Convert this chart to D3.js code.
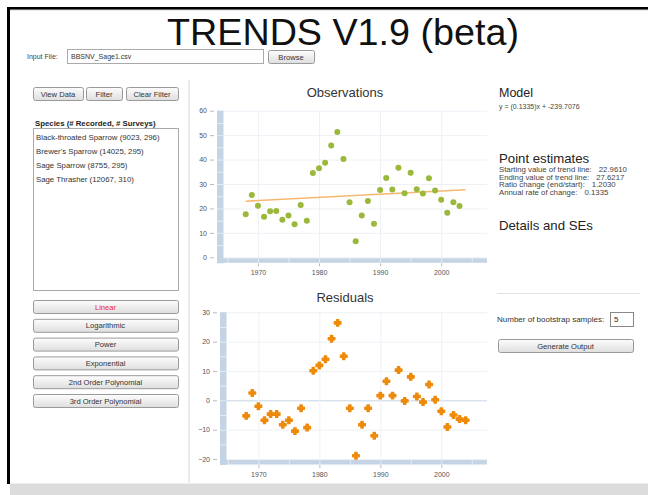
<!DOCTYPE html>
<html>
<head>
<meta charset="utf-8">
<script src="https://cdn.jsdelivr.net/npm/d3@7"></script>
<style>
  body { margin: 0; background: #fff; }
  svg { display: block; font-family: "Liberation Sans", Arial, sans-serif; }
</style>
</head>
<body>
<svg id="chart" width="648" height="495"></svg>
<script>
// Data
const obsYears = [1968, 1969, 1970, 1971, 1972, 1973, 1974, 1975, 1976, 1977, 1978, 1979,
    1980, 1981, 1982, 1983, 1984, 1985, 1986, 1987, 1988, 1989, 1990, 1991,
    1992, 1993, 1994, 1995, 1996, 1997, 1998, 1999, 2000, 2001, 2002, 2003]
const observations = [17.6, 25.5, 21.1, 16.6, 18.8, 18.9, 15.4, 17.1, 13.5, 21.4, 15.0, 34.5,
    36.4, 38.7, 45.8, 51.3, 40.2, 22.5, 6.6, 17.1, 23.0, 13.7, 27.5, 32.5,
    27.8, 36.6, 26.2, 34.6, 27.9, 26.1, 32.4, 27.3, 23.6, 18.2, 22.5, 21.0]
const resYears = [1968, 1969, 1970, 1971, 1972, 1973, 1974, 1975, 1976, 1977, 1978, 1979,
    1980, 1981, 1982, 1983, 1984, 1985, 1986, 1987, 1988, 1989, 1990, 1991,
    1992, 1993, 1994, 1995, 1996, 1997, 1998, 1999, 2000, 2001, 2002, 2003, 2004]
const residuals = [-5.3, 2.5, -2.0, -6.8, -4.7, -4.7, -8.3, -6.8, -10.5, -2.7, -9.3, 10.1,
    11.9, 14.0, 21.0, 26.4, 15.0, -2.7, -18.9, -8.3, -2.7, -12.1, 1.6, 6.5,
    1.6, 10.3, -0.2, 8.0, 1.3, -0.6, 5.4, 0.2, -3.7, -9.1, -5.0, -6.4, -6.8]
const trendYears = [1968, 2004]
const trendValues = [22.961, 27.6217]
const xTicks = [1970, 1980, 1990, 2000]
const obsTicks = [0, 10, 20, 30, 40, 50, 60]
const resTicks = [-20, -10, 0, 10, 20, 30]
const species = ['Black-throated Sparrow (9023, 296)', "Brewer's Sparrow (14025, 295)",
    'Sage Sparrow (8755, 295)', 'Sage Thrasher (12067, 310)']
const fitButtons = ['Linear', 'Logarithmic', 'Power', 'Exponential', '2nd Order Polynomial', '3rd Order Polynomial']
const estimates = [
    ['Starting value of trend line:', '22.9610'],
    ['Ending value of trend line:', '27.6217'],
    ['Ratio change (end/start):', '1.2030'],
    ['Annual rate of change:', '0.1335']
]

const svg = d3.select('#chart')

// Gradient for buttons
const defs = svg.append('defs')
const grad = defs.append('linearGradient').attr('id', 'btn').attr('x1', 0).attr('y1', 0).attr('x2', 0).attr('y2', 1)
grad.append('stop').attr('offset', '0%').attr('stop-color', '#fdfdfd')
grad.append('stop').attr('offset', '100%').attr('stop-color', '#dedede')

// Page frame
svg.append('rect').attr('x', 10).attr('y', 483).attr('width', 638).attr('height', 12).attr('fill', '#dcdcdc')
svg.append('line').attr('x1', 10).attr('x2', 648).attr('y1', 483.5).attr('y2', 483.5).attr('stroke', '#eeeeee')
svg.append('line').attr('x1', 189).attr('x2', 189).attr('y1', 80).attr('y2', 483).attr('stroke', '#ebebeb').attr('stroke-width', 2)
svg.append('line').attr('x1', 7).attr('x2', 648).attr('y1', 9.8).attr('y2', 9.8).attr('stroke', '#bbb')
svg.append('rect').attr('x', 7).attr('y', 7).attr('width', 641).attr('height', 2.5).attr('fill', '#000')
svg.append('rect').attr('x', 7).attr('y', 7).attr('width', 3).attr('height', 477).attr('fill', '#000')

// Title
svg.append('text')
    .attr('x', 343).attr('y', 45)
    .attr('text-anchor', 'middle')
    .attr('font-size', 36)
    .attr('fill', '#111')
    .attr('textLength', 352)
    .attr('lengthAdjust', 'spacingAndGlyphs')
    .text('TRENDS V1.9 (beta)')

// Buttons helper
const button = (x, y, w, h, label, color) => {
    const g = svg.append('g')
    g.append('rect').attr('x', x + 0.5).attr('y', y + 0.5).attr('width', w).attr('height', h)
        .attr('rx', 2).attr('fill', 'url(#btn)').attr('stroke', '#9a9a9a')
    g.append('text').attr('x', x + w / 2).attr('y', y + h / 2 + 3)
        .attr('text-anchor', 'middle').attr('font-size', 7.6).attr('fill', color || '#333')
        .text(label)
}

// Input file row
svg.append('text').attr('x', 27).attr('y', 59).attr('font-size', 7).attr('fill', '#444').text('Input File:')
svg.append('rect').attr('x', 67.5).attr('y', 49.5).attr('width', 196).attr('height', 14)
    .attr('fill', '#fff').attr('stroke', '#aaa')
svg.append('text').attr('x', 71).attr('y', 59).attr('font-size', 7).attr('fill', '#333').text('BBSNV_Sage1.csv')
button(268, 50, 46, 13, 'Browse')

// Left panel
button(33, 87, 50, 13, 'View Data')
button(86, 87, 36, 13, 'Filter')
button(126, 87, 52, 13, 'Clear Filter')
svg.append('text').attr('x', 35).attr('y', 126).attr('font-size', 7.8).attr('font-weight', 'bold')
    .attr('fill', '#222').text('Species (# Recorded, # Surveys)')
svg.append('rect').attr('x', 33.5).attr('y', 128.5).attr('width', 145).attr('height', 162)
    .attr('fill', '#fff').attr('stroke', '#aaa')
svg.append('g').selectAll('text')
    .data(species)
    .enter()
    .append('text')
    .attr('x', 36)
    .attr('y', (d, i) => 140 + i * 14)
    .attr('font-size', 7.8)
    .attr('fill', '#333')
    .text(d => d)

fitButtons.forEach((label, i) => {
    button(33, 300 + i * 18.8, 145, 13, label, i === 0 ? '#e8302a' : '#333')
})

// Chart drawing helper
const drawPanel = (opts) => {
    const g = svg.append('g')
    const x = d3.scaleLinear().domain(opts.xDomain).range(opts.xRange)
    const y = d3.scaleLinear().domain(opts.yDomain).range(opts.yRange)

    // Title
    g.append('text').attr('x', 345).attr('y', opts.titleY).attr('text-anchor', 'middle')
        .attr('font-size', 13).attr('fill', '#333').text(opts.title)

    // Grid
    g.append('g').selectAll('line.h')
        .data(opts.yTicks)
        .enter()
        .append('line')
        .attr('x1', opts.xRange[0]).attr('x2', opts.xRange[1])
        .attr('y1', d => y(d) + 0.5).attr('y2', d => y(d) + 0.5)
        .attr('stroke', d => (d === 0 && opts.zeroLine) ? '#c5d5e6' : '#edf1f6')
    g.append('g').selectAll('line.v')
        .data(xTicks)
        .enter()
        .append('line')
        .attr('x1', d => x(d) + 0.5).attr('x2', d => x(d) + 0.5)
        .attr('y1', opts.yRange[1]).attr('y2', opts.yRange[0])
        .attr('stroke', '#edf1f6')

    // Axis bars
    const barColor = '#c4d4e4'
    g.append('rect').attr('x', opts.xRange[0]).attr('y', opts.yRange[1])
        .attr('width', 6.5).attr('height', opts.yRange[0] - opts.yRange[1] + 6)
        .attr('fill', barColor)
    g.append('rect').attr('x', opts.xRange[0]).attr('y', opts.yRange[0] + 1)
        .attr('width', opts.xRange[1] - opts.xRange[0]).attr('height', 4.5)
        .attr('fill', barColor)
    // white segment marks on bars
    const ySegs = d3.range(opts.yDomain[0] + 5, opts.yDomain[1], 5)
    g.append('g').selectAll('line')
        .data(ySegs)
        .enter()
        .append('line')
        .attr('x1', opts.xRange[0]).attr('x2', opts.xRange[0] + 6.5)
        .attr('y1', d => y(d) + 0.5).attr('y2', d => y(d) + 0.5)
        .attr('stroke', '#e3ebf3')
    const xSegs = d3.range(1965, 2008, 5)
    g.append('g').selectAll('line')
        .data(xSegs)
        .enter()
        .append('line')
        .attr('x1', d => x(d) + 0.5).attr('x2', d => x(d) + 0.5)
        .attr('y1', opts.yRange[0] + 1).attr('y2', opts.yRange[0] + 5.5)
        .attr('stroke', '#e3ebf3')

    // Axes with d3
    const yAxis = d3.axisLeft(y).tickValues(opts.yTicks).tickSize(4).tickPadding(3)
    const yG = g.append('g')
        .attr('transform', 'translate(' + (opts.xRange[0] - 3) + ',0)')
        .call(yAxis)
    yG.select('.domain').remove()
    yG.selectAll('line').attr('stroke', '#bbb')
    yG.selectAll('text').attr('font-size', 7).attr('fill', '#555').attr('font-family', 'Liberation Sans, Arial, sans-serif')

    const xAxis = d3.axisBottom(x).tickValues(xTicks).tickSize(3).tickPadding(4).tickFormat(d3.format('d'))
    const xG = g.append('g')
        .attr('transform', 'translate(0,' + (opts.yRange[0] + 6) + ')')
        .call(xAxis)
    xG.select('.domain').remove()
    xG.selectAll('line').attr('stroke', '#bbb')
    xG.selectAll('text').attr('font-size', 7).attr('fill', '#555').attr('font-family', 'Liberation Sans, Arial, sans-serif')

    return { g, x, y }
}

// Observations panel
const obs = drawPanel({
    title: 'Observations', titleY: 97,
    xDomain: [1963.3, 2007.5], xRange: [217, 487],
    yDomain: [0, 60], yRange: [257.3, 110.7],
    yTicks: obsTicks
})

const trendLine = d3.line()
    .x((d, i) => obs.x(trendYears[i]))
    .y(d => obs.y(d))
obs.g.append('path')
    .datum(trendValues)
    .attr('d', trendLine)
    .attr('fill', 'none')
    .attr('stroke', '#f6b870')
    .attr('stroke-width', 1.6)

obs.g.append('g').selectAll('circle')
    .data(observations)
    .enter()
    .append('circle')
    .attr('cx', (d, i) => obs.x(obsYears[i]))
    .attr('cy', d => obs.y(d))
    .attr('r', 3)
    .attr('fill', '#9ab83a')

// Residuals panel
const res = drawPanel({
    title: 'Residuals', titleY: 302,
    xDomain: [1963.7, 2007.5], xRange: [220, 487],
    yDomain: [-20, 30], yRange: [459, 312.3],
    yTicks: resTicks, zeroLine: true
})

const cross = d3.symbol().type(d3.symbolCross).size(24)
res.g.append('g').selectAll('path')
    .data(residuals)
    .enter()
    .append('path')
    .attr('d', cross)
    .attr('transform', (d, i) => 'translate(' + res.x(resYears[i]) + ',' + res.y(d) + ')')
    .attr('fill', '#ee8a0a')
    .attr('stroke', '#ee8a0a')
    .attr('stroke-width', 1.4)
    .attr('stroke-linejoin', 'round')

// Right panel
svg.append('text').attr('x', 499).attr('y', 97).attr('font-size', 12.5).attr('fill', '#222').text('Model')
svg.append('text').attr('x', 499).attr('y', 109).attr('font-size', 7).attr('fill', '#444').text('y = (0.1335)x + -239.7076')
svg.append('text').attr('x', 499).attr('y', 163).attr('font-size', 13.2).attr('fill', '#222').text('Point estimates')
const est = svg.append('g').selectAll('text')
    .data(estimates)
    .enter()
    .append('text')
    .attr('x', 499)
    .attr('y', (d, i) => 172 + i * 7.5)
    .attr('font-size', 7.8)
    .attr('fill', '#444')
est.append('tspan').text(d => d[0])
est.append('tspan').attr('dx', 7).text(d => d[1])
svg.append('text').attr('x', 499).attr('y', 230).attr('font-size', 13.2).attr('fill', '#222').text('Details and SEs')

svg.append('line').attr('x1', 497).attr('x2', 640).attr('y1', 293.5).attr('y2', 293.5).attr('stroke', '#dde3e3')
svg.append('text').attr('x', 497).attr('y', 322).attr('font-size', 8).attr('fill', '#333').text('Number of bootstrap samples:')
svg.append('rect').attr('x', 610.5).attr('y', 312.5).attr('width', 23).attr('height', 14)
    .attr('fill', '#fff').attr('stroke', '#888')
svg.append('text').attr('x', 614).attr('y', 322).attr('font-size', 8).attr('fill', '#222').text('5')
button(498, 339, 135, 13, 'Generate Output')
</script>
</body>
</html>
